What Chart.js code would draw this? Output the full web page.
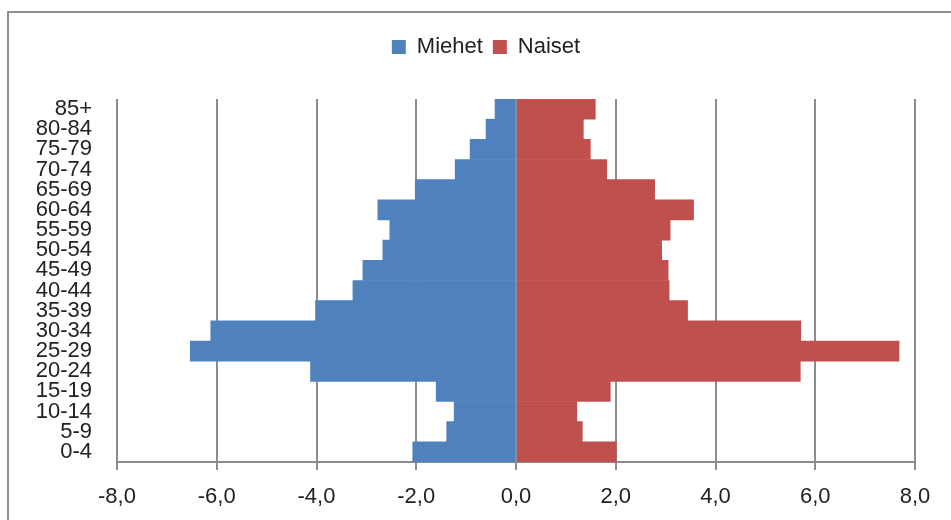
<!DOCTYPE html>
<html>
<head>
<meta charset="utf-8">
<script src="https://cdn.jsdelivr.net/npm/chart.js@4"></script>
<style>
  html, body { margin: 0; padding: 0; background: #fff; }
  #wrap { position: relative; width: 951px; height: 520px; overflow: hidden; }
  #frame { position: absolute; left: 7px; top: 11px; width: 980px; height: 560px; border: 2px solid #8f8f8f; }
  canvas { position: absolute; left: 0; top: 0; }
</style>
</head>
<body>
<div id="wrap">
  <div id="frame"></div>
  <canvas id="myChart" width="951" height="520"></canvas>
</div>
<script>
// age groups, bottom to top
const ageGroups = ["0-4", "5-9", "10-14", "15-19", "20-24", "25-29", "30-34", "35-39", "40-44",
  "45-49", "50-54", "55-59", "60-64", "65-69", "70-74", "75-79", "80-84", "85+"];

// share of population, %; men plotted as negative
const miehet = [-2.07, -1.39, -1.24, -1.60, -4.12, -6.53, -6.12, -4.02, -3.27,
  -3.07, -2.67, -2.53, -2.77, -2.02, -1.22, -0.92, -0.60, -0.42];
const naiset = [2.01, 1.33, 1.22, 1.89, 5.70, 7.68, 5.71, 3.44, 3.07,
  3.05, 2.92, 3.09, 3.56, 2.78, 1.82, 1.49, 1.35, 1.59];

const xTicks = [-8, -6, -4, -2, 0, 2, 4, 6, 8];

const gridGray = "#8c8c8c";
const font = "'Liberation Sans', Arial, sans-serif";

// legend needs extra room below it, and sits a bit right of centre
const legendSpace = {
  id: "legendSpace",
  beforeInit(chart) {
    const fit = chart.legend.fit;
    chart.legend.fit = function () {
      fit.call(this);
      this.height += 31;
    };
  },
  beforeDraw(chart) {
    chart.legend.left = 56;
    chart.legend.right = 916;
  }
};

// vertical axis line at zero, on top of the bars
const zeroLine = {
  id: "zeroLine",
  afterDatasetsDraw(chart) {
    const { ctx, chartArea, scales } = chart;
    const x = Math.round(scales.x.getPixelForValue(0));
    ctx.save();
    ctx.strokeStyle = gridGray;
    ctx.lineWidth = 2;
    ctx.beginPath();
    ctx.moveTo(x, chartArea.top);
    ctx.lineTo(x, chartArea.bottom);
    ctx.stroke();
    ctx.restore();
  }
};

const ctx = document.getElementById("myChart").getContext("2d");
new Chart(ctx, {
  type: "bar",
  data: {
    labels: ageGroups,
    datasets: [
      {
        label: "Miehet",
        data: miehet,
        backgroundColor: "#4F81BD",
        borderWidth: 0,
        barPercentage: 1,
        categoryPercentage: 1
      },
      {
        label: "Naiset",
        data: naiset,
        backgroundColor: "#C0504D",
        borderWidth: 0,
        barPercentage: 1,
        categoryPercentage: 1
      }
    ]
  },
  options: {
    indexAxis: "y",
    responsive: false,
    animation: false,
    layout: {
      padding: { left: 8, right: 36, top: 26, bottom: 0 }
    },
    plugins: {
      tooltip: { enabled: false },
      legend: {
        position: "top",
        labels: {
          font: { family: font, size: 22 },
          color: "#222",
          boxWidth: 14,
          boxHeight: 14,
          padding: 10
        }
      }
    },
    scales: {
      x: {
        stacked: true,
        min: -8,
        max: 8,
        afterBuildTicks: (scale) => {
          scale.ticks = xTicks.map((v) => ({ value: v }));
        },
        afterFit: (scale) => {
          scale.height = 58;
        },
        grid: {
          color: gridGray,
          lineWidth: 2,
          tickLength: 8
        },
        border: { color: gridGray, width: 2 },
        ticks: {
          font: { family: font, size: 22 },
          color: "#222",
          padding: 14,
          callback: (v) => v.toFixed(1).replace(".", ",")
        }
      },
      y: {
        stacked: true,
        reverse: true,
        afterFit: (scale) => {
          scale.width = 109;
        },
        grid: { display: false, drawTicks: false },
        border: { display: false },
        ticks: {
          autoSkip: false,
          font: { family: font, size: 22 },
          color: "#222",
          padding: 25
        }
      }
    }
  },
  plugins: [legendSpace, zeroLine]
});
</script>
</body>
</html>
